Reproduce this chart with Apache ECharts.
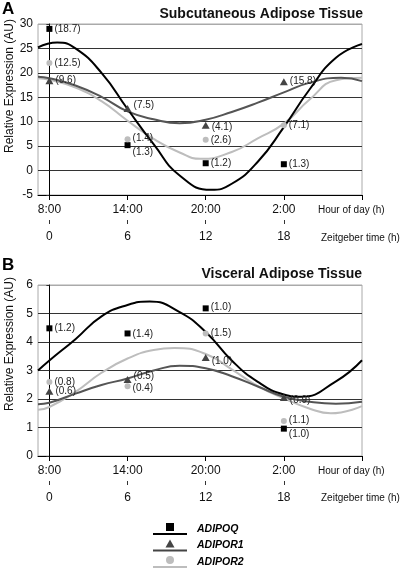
<!DOCTYPE html>
<html>
<head>
<meta charset="utf-8">
<script src="https://cdn.jsdelivr.net/npm/echarts@6/dist/echarts.min.js"></script>
<style>html,body{margin:0;padding:0;background:#fff}#c{width:400px;height:570px}</style>
</head>
<body>
<div id="c"></div>
<script>
// ---------- data ----------
const ztTicks = [0, 6, 12, 18];
const hourLabels = ['8:00', '14:00', '20:00', '2:00'];
const hourTickValues = [0, 6, 12, 18, 24];
const genes = ['ADIPOQ', 'ADIPOR1', 'ADIPOR2'];

// fitted curves: [Zeitgeber time, value]
const aFitQ  = [[-0.875, 25.2], [0.6, 26.2], [2, 25.0], [4, 20.0], [6, 12.6], [8, 5.4], [10, -1.0], [12.4, -3.95], [14, -2.7], [16, 1.8], [18, 8.9], [20, 16.7], [22, 23.1], [24, 25.9]];
const aFitR1 = [[-0.875, 19.2], [0, 18.9], [2, 17.4], [4, 15.1], [6, 12.1], [8, 10.5], [10, 9.7], [12, 10.4], [14, 12.0], [16, 13.9], [18, 16.0], [20, 18.0], [22.4, 19.0], [24, 18.3]];
const aFitR2 = [[-0.875, 18.9], [0, 18.6], [2, 17.0], [4, 14.2], [6, 10.2], [8, 6.5], [10, 3.7], [11.6, 2.4], [14, 3.8], [16, 6.6], [18, 9.6], [20, 14.6], [22, 18.5], [24, 19.0]];
const bFitQ  = [[-0.875, 3.0], [0, 3.35], [2, 4.1], [4, 4.9], [6, 5.3], [7.7, 5.42], [10, 5.05], [12, 4.35], [14, 3.35], [16, 2.6], [18, 2.16], [19.3, 2.08], [22, 2.62], [24, 3.36]];
const bFitR1 = [[-0.875, 1.82], [0, 1.87], [2, 2.19], [4, 2.49], [6, 2.72], [8, 3.0], [10, 3.17], [12, 3.08], [14, 2.8], [16, 2.44], [18, 2.08], [20, 1.9], [22, 1.83], [24, 1.9]];
const bFitR2 = [[-0.875, 1.62], [0, 1.72], [2, 2.25], [4, 2.92], [6, 3.42], [8, 3.72], [9.6, 3.79], [12, 3.58], [14, 3.04], [16, 2.45], [18, 2.02], [20, 1.66], [21.6, 1.5], [24, 1.75]];

// measured means (at ztTicks) and SEM labels
const aQ  = [29.0, 5.2, 1.5, 1.3];   const semAQ  = ['18.7', '1.3', '1.2', '1.3'];
const aR1 = [18.4, 12.7, 9.3, 18.2]; const semAR1 = ['9.6', '7.5', '4.1', '15.8'];
const aR2 = [22.0, 6.4, 6.3, 9.3];   const semAR2 = ['12.5', '1.4', '2.6', '7.1'];
const bQ  = [4.48, 4.3, 5.18, 0.96]; const semBQ  = ['1.2', '1.4', '1.0', '1.0'];
const bR1 = [2.27, 2.68, 3.46, 2.05]; const semBR1 = ['0.6', '0.5', '1.0', '0.9'];
const bR2 = [2.6, 2.45, 4.3, 1.23];  const semBR2 = ['0.8', '0.4', '1.5', '1.1'];

// ---------- styling ----------
const FONT = '"Liberation Sans", Arial, sans-serif';
const colQ = '#000000', colR1 = '#555555', colR2 = '#bdbdbd';
const labelDy = {
  aQ: [0, 7, 0, 0], aR1: [0, -3, 2, 0], aR2: [0, -1, 0, 0],
  bQ: [0, 1, -1, 6], bR1: [0, -3, 4, 3], bR2: [0, 2, 0, -1]
};

function pts(vals, sems, dys) {
  return ztTicks.map((x, i) => ({
    value: [x, vals[i]], sem: sems[i],
    label: { offset: [0, dys[i]] }
  }));
}
function lineSeries(idx, pairs, color) {
  return {
    type: 'line', name: 'fit' + idx + color, xAxisIndex: idx * 2, yAxisIndex: idx,
    data: pairs, smooth: 0.5, showSymbol: false, symbol: 'none',
    lineStyle: { color: color, width: 2 }, itemStyle: { color: color }, z: 2, silent: true
  };
}
function scatterSeries(idx, name, symbol, size, vals, sems, dys, color) {
  return {
    type: 'scatter', name: name, xAxisIndex: idx * 2, yAxisIndex: idx,
    symbol: symbol, symbolSize: size, data: pts(vals, sems, dys),
    itemStyle: { color: color, opacity: 1 }, z: 4,
    label: {
      show: true, position: 'right', distance: 2,
      formatter: p => '(' + p.data.sem + ')',
      fontFamily: FONT, fontSize: 10, color: '#222'
    }
  };
}

const grids = [
  { left: 38, width: 324, top: 24, height: 171 },
  { left: 38, width: 324, top: 285, height: 171 }
];

function xAxes(g) {
  return [
    {
      type: 'value', gridIndex: g, min: -0.875, max: 24, position: 'bottom',
      axisLine: { show: true, onZero: false, lineStyle: { color: '#000', width: 1 } },
      axisTick: { show: true, customValues: hourTickValues, length: 5, lineStyle: { color: '#000' } },
      axisLabel: {
        show: true, customValues: ztTicks, margin: 9,
        formatter: v => hourLabels[ztTicks.indexOf(v)] || '',
        fontFamily: FONT, fontSize: 12, color: '#111'
      },
      splitLine: { show: false }
    },
    {
      type: 'value', gridIndex: g, min: -0.875, max: 24, position: 'bottom', offset: 25,
      axisLine: { show: false, onZero: false },
      axisTick: { show: true, customValues: ztTicks, length: 4, lineStyle: { color: '#333' } },
      axisLabel: {
        show: true, customValues: ztTicks, margin: 11,
        formatter: v => String(v), fontFamily: FONT, fontSize: 12, color: '#111'
      },
      splitLine: { show: false }
    }
  ];
}
function yAxis(g, min, max, step, nLines) {
  const cols = [];
  for (let i = 0; i < nLines; i++) cols.push(i === nLines - 1 ? '#aaaaaa' : '#333333');
  return {
    type: 'value', gridIndex: g, min: min, max: max, interval: step,
    axisLine: { show: true, lineStyle: { color: '#000', width: 1 } },
    axisTick: { show: true, length: 3, lineStyle: { color: '#333' } },
    axisLabel: { margin: 5, fontFamily: FONT, fontSize: 12, color: '#111' },
    splitLine: { show: true, lineStyle: { color: cols, width: 1 } }
  };
}

const sqIcon = 'path://M13,0 h8 v8 h-8 Z M0,10 h34 v2 h-34 Z';
const trIcon = 'path://M17,0 L21.5,8 L12.5,8 Z M0,10 h34 v2 h-34 Z';
const ciIcon = 'path://M13,4 A4,4 0 1,0 21,4 A4,4 0 1,0 13,4 Z M0,10 h34 v2 h-34 Z';

const option = {
  animation: false,
  backgroundColor: '#fff',
  grid: grids.map(g => Object.assign({ show: true, borderColor: '#aaaaaa', borderWidth: 1, backgroundColor: 'transparent' }, g)),
  title: [
    { text: 'Subcutaneous Adipose Tissue', right: 37, top: 7, padding: 0,
      textStyle: { fontFamily: FONT, fontSize: 14, fontWeight: 'bold', color: '#111' } },
    { text: 'Visceral Adipose Tissue', right: 38, top: 267, padding: 0,
      textStyle: { fontFamily: FONT, fontSize: 14, fontWeight: 'bold', color: '#111' } }
  ],
  xAxis: [].concat(xAxes(0), xAxes(1)),
  yAxis: [yAxis(0, -5, 30, 5, 8), yAxis(1, 0, 6, 1, 7)],
  legend: {
    orient: 'vertical', left: 153, top: 523, height: 47, padding: 0,
    itemWidth: 34, itemHeight: 12, itemGap: 4.5,
    selectedMode: false,
    data: [
      { name: genes[0], icon: sqIcon },
      { name: genes[1], icon: trIcon },
      { name: genes[2], icon: ciIcon }
    ],
    textStyle: { fontFamily: FONT, fontSize: 10.5, fontWeight: 'bold', fontStyle: 'italic', color: '#000', padding: [0, 0, 0, 5] }
  },
  graphic: [
    { type: 'text', x: 2, y: 9, style: { text: 'A', font: 'bold 17px ' + FONT, fill: '#000', verticalAlign: 'middle' } },
    { type: 'text', x: 2, y: 265, style: { text: 'B', font: 'bold 17px ' + FONT, fill: '#000', verticalAlign: 'middle' } },
    { type: 'text', x: 10, y: 86, rotation: Math.PI / 2, style: { text: 'Relative Expression (AU)', font: '12px ' + FONT, fill: '#111', align: 'center', verticalAlign: 'middle' } },
    { type: 'text', x: 10, y: 344, rotation: Math.PI / 2, style: { text: 'Relative Expression (AU)', font: '12px ' + FONT, fill: '#111', align: 'center', verticalAlign: 'middle' } },
    { type: 'text', x: 318, y: 210, style: { text: 'Hour of day (h)', font: '10px ' + FONT, fill: '#111', verticalAlign: 'middle' } },
    { type: 'text', x: 321, y: 238, style: { text: 'Zeitgeber time (h)', font: '10px ' + FONT, fill: '#111', verticalAlign: 'middle' } },
    { type: 'text', x: 318, y: 471, style: { text: 'Hour of day (h)', font: '10px ' + FONT, fill: '#111', verticalAlign: 'middle' } },
    { type: 'text', x: 321, y: 498, style: { text: 'Zeitgeber time (h)', font: '10px ' + FONT, fill: '#111', verticalAlign: 'middle' } }
  ],
  series: [
    lineSeries(0, aFitR2, colR2),
    lineSeries(0, aFitR1, colR1),
    lineSeries(0, aFitQ, colQ),
    lineSeries(1, bFitR2, colR2),
    lineSeries(1, bFitR1, colR1),
    lineSeries(1, bFitQ, colQ),
    scatterSeries(0, genes[0], 'rect', 6, aQ, semAQ, labelDy.aQ, colQ),
    scatterSeries(0, genes[1], 'triangle', [8, 7], aR1, semAR1, labelDy.aR1, '#444444'),
    scatterSeries(0, genes[2], 'circle', 6, aR2, semAR2, labelDy.aR2, colR2),
    scatterSeries(1, genes[0], 'rect', 6, bQ, semBQ, labelDy.bQ, colQ),
    scatterSeries(1, genes[1], 'triangle', [8, 7], bR1, semBR1, labelDy.bR1, '#444444'),
    scatterSeries(1, genes[2], 'circle', 6, bR2, semBR2, labelDy.bR2, colR2)
  ]
};

const chart = echarts.init(document.getElementById('c'), null, { renderer: 'canvas' });
chart.setOption(option);
</script>
</body>
</html>
